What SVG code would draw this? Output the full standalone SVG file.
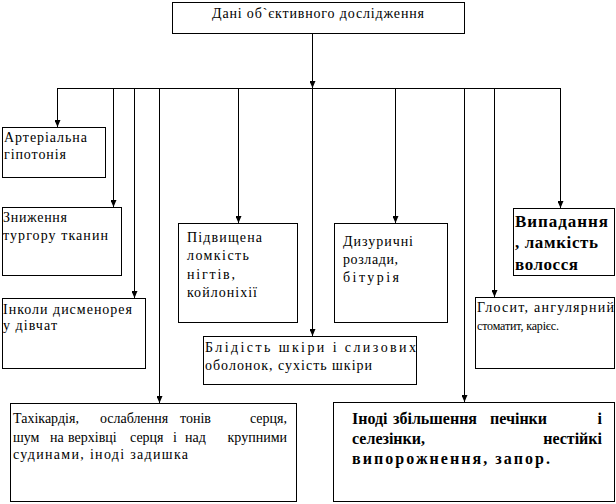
<svg xmlns="http://www.w3.org/2000/svg" width="616" height="504" viewBox="0 0 616 504">
<style>
.box{fill:#fff;stroke:#000;stroke-width:1}
.t{font-family:"Liberation Serif","Times New Roman","DejaVu Serif",serif;font-size:14px;fill:#000}
.s{font-family:"Liberation Serif","Times New Roman","DejaVu Serif",serif;font-size:12px;fill:#000}
.b{font-family:"Liberation Serif","Times New Roman","DejaVu Serif",serif;font-size:17px;font-weight:bold;fill:#000}
.b2{font-family:"Liberation Serif","Times New Roman","DejaVu Serif",serif;font-size:16px;font-weight:bold;fill:#000}
.c{fill:none;stroke:#000;stroke-width:1}
</style>
<defs>
<marker id="ah" viewBox="0 0 7 6" refX="7" refY="3" markerWidth="7" markerHeight="6" markerUnits="userSpaceOnUse" orient="auto">
<path d="M0,0 L7,3 L0,6 Z" fill="#000"/>
</marker>
</defs>
<rect width="616" height="504" fill="#fff"/>
<g id="connectors">
<line class="c" x1="312.5" y1="34" x2="312.5" y2="88" marker-end="url(#ah)"/>
<line class="c" x1="57" y1="88.5" x2="560.5" y2="88.5"/>
<line class="c" x1="57.5" y1="88" x2="57.5" y2="127" marker-end="url(#ah)"/>
<line class="c" x1="113.5" y1="88" x2="113.5" y2="207" marker-end="url(#ah)"/>
<line class="c" x1="134.5" y1="88" x2="134.5" y2="298" marker-end="url(#ah)"/>
<line class="c" x1="159.5" y1="88" x2="159.5" y2="403" marker-end="url(#ah)"/>
<line class="c" x1="238.5" y1="88" x2="238.5" y2="223" marker-end="url(#ah)"/>
<line class="c" x1="312.5" y1="88" x2="312.5" y2="336" marker-end="url(#ah)"/>
<line class="c" x1="395.5" y1="88" x2="395.5" y2="223" marker-end="url(#ah)"/>
<line class="c" x1="464.5" y1="88" x2="464.5" y2="402" marker-end="url(#ah)"/>
<line class="c" x1="494.5" y1="88" x2="494.5" y2="297" marker-end="url(#ah)"/>
<line class="c" x1="560.5" y1="88" x2="560.5" y2="208" marker-end="url(#ah)"/>
</g>
<g id="top">
<rect class="box" x="172.5" y="2.5" width="292" height="31"/>
<text class="t" x="212" y="18" textLength="212" lengthAdjust="spacing">Дані об`єктивного дослідження</text>
</g>
<g id="arterial">
<rect class="box" x="2.5" y="127.5" width="103" height="50"/>
<text class="t" x="4" y="142" textLength="83" lengthAdjust="spacing">Артеріальна</text>
<text class="t" x="4" y="159" textLength="62" lengthAdjust="spacing">гіпотонія</text>
</g>
<g id="turgor">
<rect class="box" x="2.5" y="207.5" width="119" height="68"/>
<text class="t" x="3" y="222" textLength="64" lengthAdjust="spacing">Зниження</text>
<text class="t" x="3" y="240" textLength="105" lengthAdjust="spacing">тургору тканин</text>
</g>
<g id="dysmenorrhea">
<rect class="box" x="2.5" y="298.5" width="143" height="70"/>
<text class="t" x="3" y="314" textLength="129" lengthAdjust="spacing">Інколи дисменорея</text>
<text class="t" x="3" y="330" textLength="54" lengthAdjust="spacing">у дівчат</text>
</g>
<g id="tachycardia">
<rect class="box" x="10.5" y="403.5" width="286" height="98"/>
<text class="t" y="423"><tspan x="13">Тахікардія,</tspan><tspan x="100">ослаблення</tspan><tspan x="180">тонів</tspan><tspan x="287" text-anchor="end">серця,</tspan></text>
<text class="t" y="442"><tspan x="13">шум</tspan><tspan x="50">на</tspan><tspan x="68">верхівці</tspan><tspan x="130">серця</tspan><tspan x="173">і</tspan><tspan x="185">над</tspan><tspan x="287" text-anchor="end">крупними</tspan></text>
<text class="t" x="13" y="459" textLength="175" lengthAdjust="spacing">судинами, іноді задишка</text>
</g>
<g id="nails">
<rect class="box" x="178.5" y="223.5" width="119" height="99"/>
<text class="t" x="187" y="242" textLength="75" lengthAdjust="spacing">Підвищена</text>
<text class="t" x="187" y="260" textLength="62" lengthAdjust="spacing">ломкість</text>
<text class="t" x="187" y="279" textLength="48" lengthAdjust="spacing">нігтів,</text>
<text class="t" x="187" y="297" textLength="70" lengthAdjust="spacing">койлоніхії</text>
</g>
<g id="pallor">
<rect class="box" x="203.5" y="336.5" width="213" height="48"/>
<text class="t" x="205" y="352" textLength="211" lengthAdjust="spacing">Блідість шкіри і слизових</text>
<text class="t" x="205" y="370" textLength="167" lengthAdjust="spacing">оболонок, сухість шкіри</text>
</g>
<g id="dysuria">
<rect class="box" x="334.5" y="223.5" width="113" height="99"/>
<text class="t" x="343" y="246" textLength="70" lengthAdjust="spacing">Дизуричні</text>
<text class="t" x="343" y="264" textLength="55" lengthAdjust="spacing">розлади,</text>
<text class="t" x="343" y="282" textLength="56" lengthAdjust="spacing">бітурія</text>
</g>
<g id="hair">
<rect class="box" x="513.5" y="208.5" width="101" height="67"/>
<text class="b" x="515" y="227" textLength="93" lengthAdjust="spacing">Випадання</text>
<text class="b" x="515" y="248" textLength="83" lengthAdjust="spacing">, ламкість</text>
<text class="b" x="515" y="270" textLength="63" lengthAdjust="spacing">волосся</text>
</g>
<g id="glossitis">
<rect class="box" x="475.5" y="297.5" width="139" height="71"/>
<text class="t" x="477" y="312" textLength="137" lengthAdjust="spacing">Глосит, ангулярний</text>
<text class="s" x="477" y="330" textLength="82" lengthAdjust="spacing">стоматит, карієс.</text>
</g>
<g id="liver">
<rect class="box" x="333.5" y="402.5" width="281" height="99"/>
<text class="b2" y="424"><tspan x="352">Іноді</tspan><tspan x="393">збільшення</tspan><tspan x="490">печінки</tspan><tspan x="602" text-anchor="end">і</tspan></text>
<text class="b2" y="444"><tspan x="352">селезінки,</tspan><tspan x="602" text-anchor="end">нестійкі</tspan></text>
<text class="b2" x="352" y="464" textLength="198" lengthAdjust="spacing">випорожнення, запор.</text>
</g>
</svg>
